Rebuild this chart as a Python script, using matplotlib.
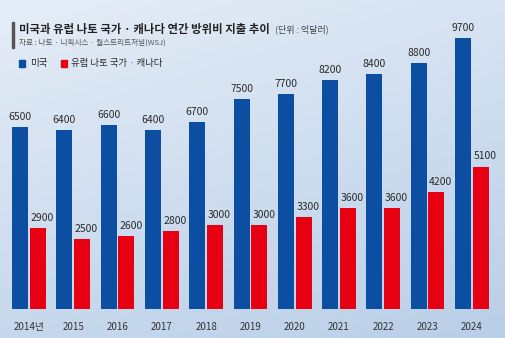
import numpy as np
import matplotlib.pyplot as plt

plt.rcParams['font.family'] = ['Noto Sans CJK KR', 'DejaVu Sans']

# ============================================================
# DATA
# ============================================================

years = ["2014년", "2015", "2016", "2017", "2018", "2019",
         "2020", "2021", "2022", "2023", "2024"]
us = [6500, 6400, 6600, 6400, 6700, 7500, 7700, 8200, 8400, 8800, 9700]
europe = [2900, 2500, 2600, 2800, 3000, 3000, 3300, 3600, 3600, 4200, 5100]

BLUE = "#0b4ea2"
RED = "#e60012"
TEXT = "#2b2b2b"

# ============================================================
# FIGURE
# ============================================================

fig = plt.figure(figsize=(5.06, 3.38), dpi=100)

# background gradient
bg = fig.add_axes([0, 0, 1, 1], zorder=0)
yy, xx = np.mgrid[0:1:200j, 0:1:300j]
t = np.clip(0.55 * yy + 0.25 * xx, 0, 1)
top = np.array([0.90, 0.93, 0.97])
bot = np.array([0.68, 0.78, 0.89])
img = top[None, None, :] * (1 - t[..., None]) + bot[None, None, :] * t[..., None]
bg.imshow(img, aspect="auto", extent=[0, 1, 0, 1], origin="upper")
bg.axis("off")

ax = fig.add_axes([0, 29 / 338, 1, 309 / 338], zorder=1)
ax.patch.set_alpha(0)

x = np.arange(len(years))
w = 0.36
ax.bar(x - 0.2, us, w, color=BLUE)
ax.bar(x + 0.2, europe, w, color=RED)

for i in range(len(years)):
    ax.text(x[i] - 0.2, us[i] + 180, str(us[i]), ha="center", va="bottom",
            fontsize=7.5, color=TEXT)
    ax.text(x[i] + 0.3, europe[i] + 180, str(europe[i]), ha="center", va="bottom",
            fontsize=7.5, color=TEXT)
    ax.text(x[i], -450, years[i], ha="center", va="top", fontsize=7,
            color="#333333", clip_on=False)

ax.set_xlim(-0.655, 10.77)
ax.set_ylim(0, 11060)
ax.axis("off")

# title block
fig.patches.append(plt.Rectangle((12 / 506, 1 - 48 / 338), 2.5 / 506, 26 / 338,
                                 transform=fig.transFigure, color="#555555"))
fig.text(19 / 506, 1 - 29 / 338, "미국과 유럽 나토 국가 · 캐나다 연간 방위비 지출 추이",
         fontsize=8.2, fontweight="bold", color="#222222", va="center")
fig.text(275 / 506, 1 - 29 / 338, "(단위 : 억달러)", fontsize=6.5, color="#444444",
         va="center")
fig.text(19 / 506, 1 - 43 / 338, "자료 : 나토 · 니힉시스 · 월스트리트저널(WSJ)",
         fontsize=5.5, color="#555555", va="center")

# legend
fig.patches.append(plt.Rectangle((19 / 506, 1 - 67 / 338), 6 / 506, 7 / 338,
                                 transform=fig.transFigure, color=BLUE))
fig.text(30 / 506, 1 - 63.5 / 338, "미국", fontsize=6.8, color=TEXT, va="center")
fig.patches.append(plt.Rectangle((61 / 506, 1 - 67 / 338), 6 / 506, 7 / 338,
                                 transform=fig.transFigure, color=RED))
fig.text(71 / 506, 1 - 63.5 / 338, "유럽 나토 국가 · 캐나다", fontsize=6.8,
         color=TEXT, va="center")

fig.savefig("out.png", dpi=100)
